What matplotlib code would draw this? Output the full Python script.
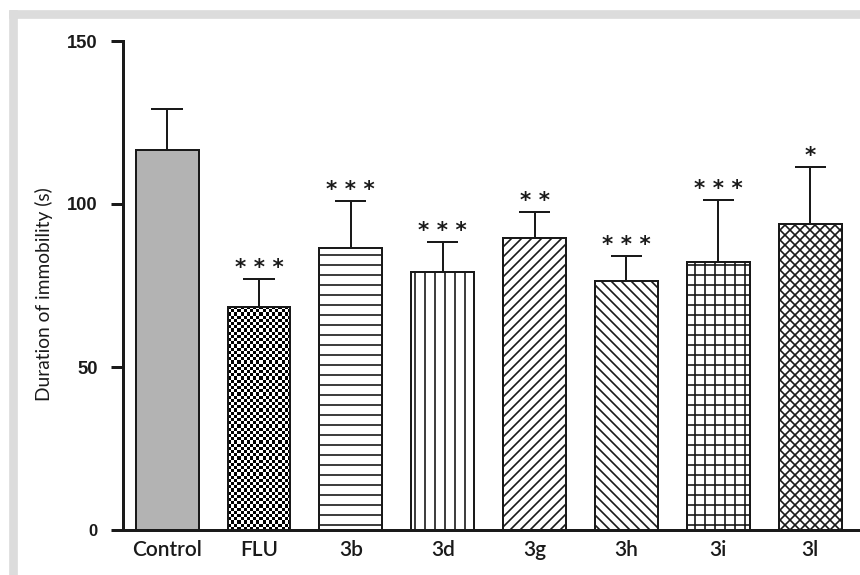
import matplotlib
matplotlib.use('Agg')
import matplotlib.pyplot as plt
from matplotlib.patches import Rectangle
import numpy as np

groups = ['Control', 'FLU', '3b', '3d', '3g', '3h', '3i', '3l']
means = [116.6, 68.5, 86.6, 79.2, 89.6, 76.5, 82.3, 93.8]
sems = [12.5, 8.4, 14.3, 9.2, 7.9, 7.6, 18.9, 17.6]
stars = ['', '***', '***', '***', '**', '***', '***', '*']
hatches = ['', None, '--', '||', '////', '\\\\\\\\', '++', 'xxxx']
yticks = [0, 50, 100, 150]

plt.rcParams['hatch.linewidth'] = 1.0
plt.rcParams['hatch.color'] = '#1a1a1a'

fig = plt.figure(figsize=(860 / 120, 575 / 120), dpi=120)
fig.patch.set_facecolor('white')
# light grey frame, top and left
fig.patches.append(Rectangle((10 / 860, 1 - 18 / 575), 1, 7 / 575,
                             transform=fig.transFigure, color='#dcdcdc', zorder=0))
fig.patches.append(Rectangle((10 / 860, 0), 7 / 860, 1 - 11 / 575,
                             transform=fig.transFigure, color='#dcdcdc', zorder=0))

ax = fig.add_axes([123 / 860, 45 / 575, 735 / 860, 489 / 575])
ax.set_facecolor('none')
xlim = (-0.48, 7.52)
ax.set_xlim(*xlim)
ax.set_ylim(0, 150)

x = np.arange(len(groups))
w = 0.685
for i in range(len(groups)):
    if i == 0:
        b = ax.bar(x[i], means[i], w, color='#b3b3b3', edgecolor='#1a1a1a', linewidth=1.2, zorder=2)
    elif hatches[i] is None:
        b = ax.bar(x[i], means[i], w, color='none', edgecolor='#1a1a1a', linewidth=1.2, zorder=2)
        # checkerboard fill
        p0 = ax.transData.transform((x[i] - w / 2, 0))
        p1 = ax.transData.transform((x[i] + w / 2, means[i]))
        nc = int(round((p1[0] - p0[0]) / 3.2))
        nr = int(round((p1[1] - p0[1]) / 3.2))
        board = (np.indices((nr, nc)).sum(axis=0) % 2).astype(float)
        im = ax.imshow(board, cmap='gray', extent=(x[i] - w / 2, x[i] + w / 2, 0, means[i]),
                       aspect='auto', interpolation='nearest', zorder=1.5, vmin=0, vmax=1)
        im.set_clip_path(b[0])
    else:
        b = ax.bar(x[i], means[i], w, color='white', edgecolor='#1a1a1a', linewidth=1.2,
                   hatch=hatches[i], zorder=2)

ax.set_xlim(*xlim)
ax.set_ylim(0, 150)

# upper error bars
tops = np.array(means) + np.array(sems)
ax.vlines(x, means, tops, color='#1a1a1a', linewidth=1.2, zorder=3)
ax.hlines(tops, x - 0.17, x + 0.17, color='#1a1a1a', linewidth=1.2, zorder=3)

for i in range(len(groups)):
    if stars[i]:
        ax.annotate(' '.join(stars[i]), (x[i], tops[i]), xytext=(0, 3),
                    textcoords='offset points', ha='center', va='baseline',
                    fontsize=13, fontweight='bold', color='#1a1a1a', family='DejaVu Sans')

for s in ['top', 'right']:
    ax.spines[s].set_visible(False)
for s in ['left', 'bottom']:
    ax.spines[s].set_linewidth(1.8)
    ax.spines[s].set_color('#1a1a1a')

ax.set_yticks(yticks)
ax.set_yticklabels([str(v) for v in yticks], family='Liberation Sans', fontweight='bold', fontsize=11)
ax.get_yticklabels()[0].set_fontsize(10)
ax.tick_params(axis='y', direction='out', length=7, width=1.8, pad=8, colors='#1a1a1a')
ax.set_xticks(x)
ax.set_xticklabels(groups, family='Lato', fontweight='semibold', fontsize=12.5)
ax.tick_params(axis='x', length=0, pad=6, colors='#1a1a1a')

ax.set_ylabel('Duration of immobility (s)', family='Lato', fontsize=11.5, color='#1a1a1a')
ax.yaxis.set_label_coords(-0.095, 0.483)

fig.savefig('out.png', dpi=120)
